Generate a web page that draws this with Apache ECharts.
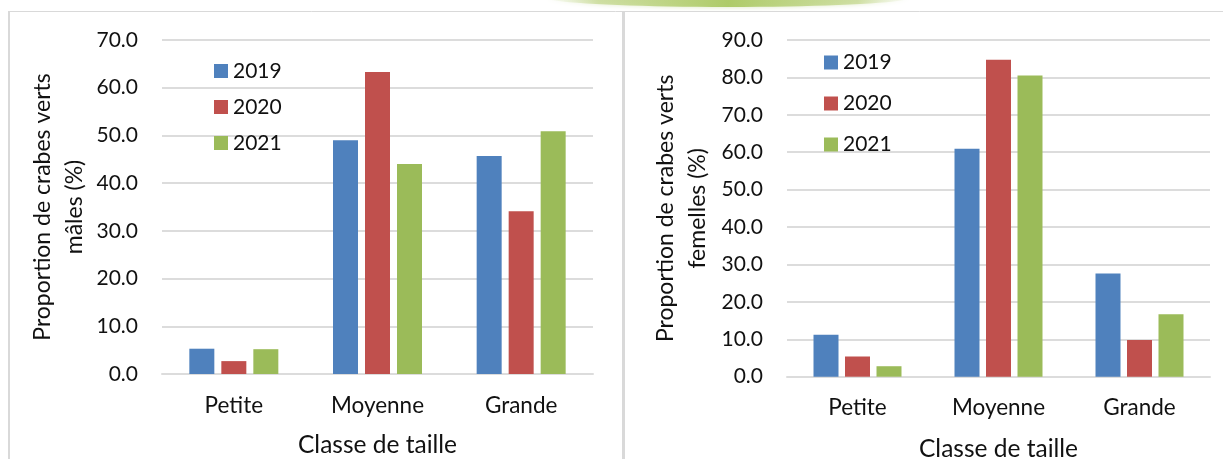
<!DOCTYPE html>
<html>
<head>
<meta charset="utf-8">
<script src="https://cdn.jsdelivr.net/npm/echarts@6/dist/echarts.min.js"></script>
<style>
  html, body { margin: 0; padding: 0; background: #fff; }
  #chart { width: 1223px; height: 459px; }
</style>
</head>
<body>
<div id="chart"></div>
<script>
// Size classes on the x axis
const categories = ['Petite', 'Moyenne', 'Grande'];
const years = ['2019', '2020', '2021'];

// Male green crabs, proportion per size class (%)
const males2019 = [5.3, 49.0, 45.7];
const males2020 = [2.7, 63.3, 34.1];
const males2021 = [5.2, 44.0, 50.9];

// Female green crabs, proportion per size class (%)
const females2019 = [11.2, 60.9, 27.6];
const females2020 = [5.4, 84.7, 9.8];
const females2021 = [2.8, 80.5, 16.7];

const colors = ['#4F81BD', '#C0504D', '#9BBB59'];
const FONT = 'Lato';
const TXT = '#111';

const chart = echarts.init(document.getElementById('chart'), null, { renderer: 'canvas' });

function yAxis(gridIndex, max, title, gap) {
  return {
    type: 'value', gridIndex, min: 0, max, interval: 10,
    axisLine: { show: false }, axisTick: { show: false },
    axisLabel: { formatter: v => v.toFixed(1), fontFamily: FONT, fontSize: 21, color: TXT, margin: 24 },
    splitLine: { lineStyle: { color: '#dcdcdc', width: 2 } },
    name: title, nameLocation: 'middle', nameRotate: 90, nameGap: gap,
    nameTextStyle: { fontFamily: FONT, fontSize: 23, color: TXT, lineHeight: 32, align: 'center' }
  };
}

function xAxis(gridIndex, gap) {
  return {
    type: 'category', gridIndex, data: categories,
    axisLine: { lineStyle: { color: '#dcdcdc', width: 2 } },
    axisTick: { show: false },
    axisLabel: { fontFamily: FONT, fontSize: 22.5, color: TXT, margin: 20 },
    name: 'Classe de taille', nameLocation: 'middle', nameGap: gap,
    nameTextStyle: { fontFamily: FONT, fontSize: 24.5, color: TXT }
  };
}

function bars(values, idx, axisIndex, gap) {
  return {
    type: 'bar', name: years[idx], data: values,
    xAxisIndex: axisIndex, yAxisIndex: axisIndex,
    barWidth: 25, barGap: gap,
    itemStyle: { color: colors[idx] },
    animation: false
  };
}

function legend(left, top, gap) {
  return {
    orient: 'vertical', left, top, itemGap: gap, padding: 0,
    itemWidth: 14, itemHeight: 14, icon: 'rect',
    data: years,
    textStyle: { fontFamily: FONT, fontSize: 21, color: TXT, lineHeight: 20 },
    selectedMode: false
  };
}

chart.setOption({
  animation: false,
  backgroundColor: '#fff',
  grid: [
    { left: 162, right: 630, top: 40, bottom: 85, outerBoundsMode: 'none', containLabel: false },
    { left: 787, right: 13, top: 40, bottom: 82.3, outerBoundsMode: 'none', containLabel: false }
  ],
  xAxis: [xAxis(0, 59), xAxis(1, 60)],
  yAxis: [
    yAxis(0, 70, 'Proportion de crabes verts\nmâles (%)', 71),
    yAxis(1, 90, 'Proportion de crabes verts\nfemelles (%)', 73)
  ],
  legend: [legend(214, 60.5, 15), legend(824, 52, 20)],
  series: [
    bars(males2019, 0, 0, '28%'), bars(males2020, 1, 0, '28%'), bars(males2021, 2, 0, '28%'),
    bars(females2019, 0, 1, '26%'), bars(females2020, 1, 1, '26%'), bars(females2021, 2, 1, '26%')
  ],
  graphic: [
    // green banner edge along the top
    { type: 'ellipse', silent: true, z: 0,
      shape: { cx: 728, cy: -3, rx: 185, ry: 10 },
      style: {
        fill: new echarts.graphic.LinearGradient(0, 0, 1, 0, [
          { offset: 0, color: 'rgba(220,232,190,0)' },
          { offset: 0.15, color: 'rgba(195,215,140,0.7)' },
          { offset: 0.5, color: '#aecb68' },
          { offset: 0.85, color: 'rgba(195,215,140,0.7)' },
          { offset: 1, color: 'rgba(220,232,190,0)' }
        ]),
        shadowBlur: 5, shadowColor: 'rgba(180,205,120,0.5)'
      } },
    // panel frames
    { type: 'line', silent: true, shape: { x1: 8, y1: 11.5, x2: 1223, y2: 11.5 },
      style: { stroke: '#d9d9d9', lineWidth: 1 } },
    { type: 'line', silent: true, shape: { x1: 9, y1: 11, x2: 9, y2: 459 },
      style: { stroke: '#d9d9d9', lineWidth: 2 } },
    { type: 'line', silent: true, shape: { x1: 623.5, y1: 11, x2: 623.5, y2: 459 },
      style: { stroke: '#d9d9d9', lineWidth: 3 } }
  ]
});
</script>
</body>
</html>
